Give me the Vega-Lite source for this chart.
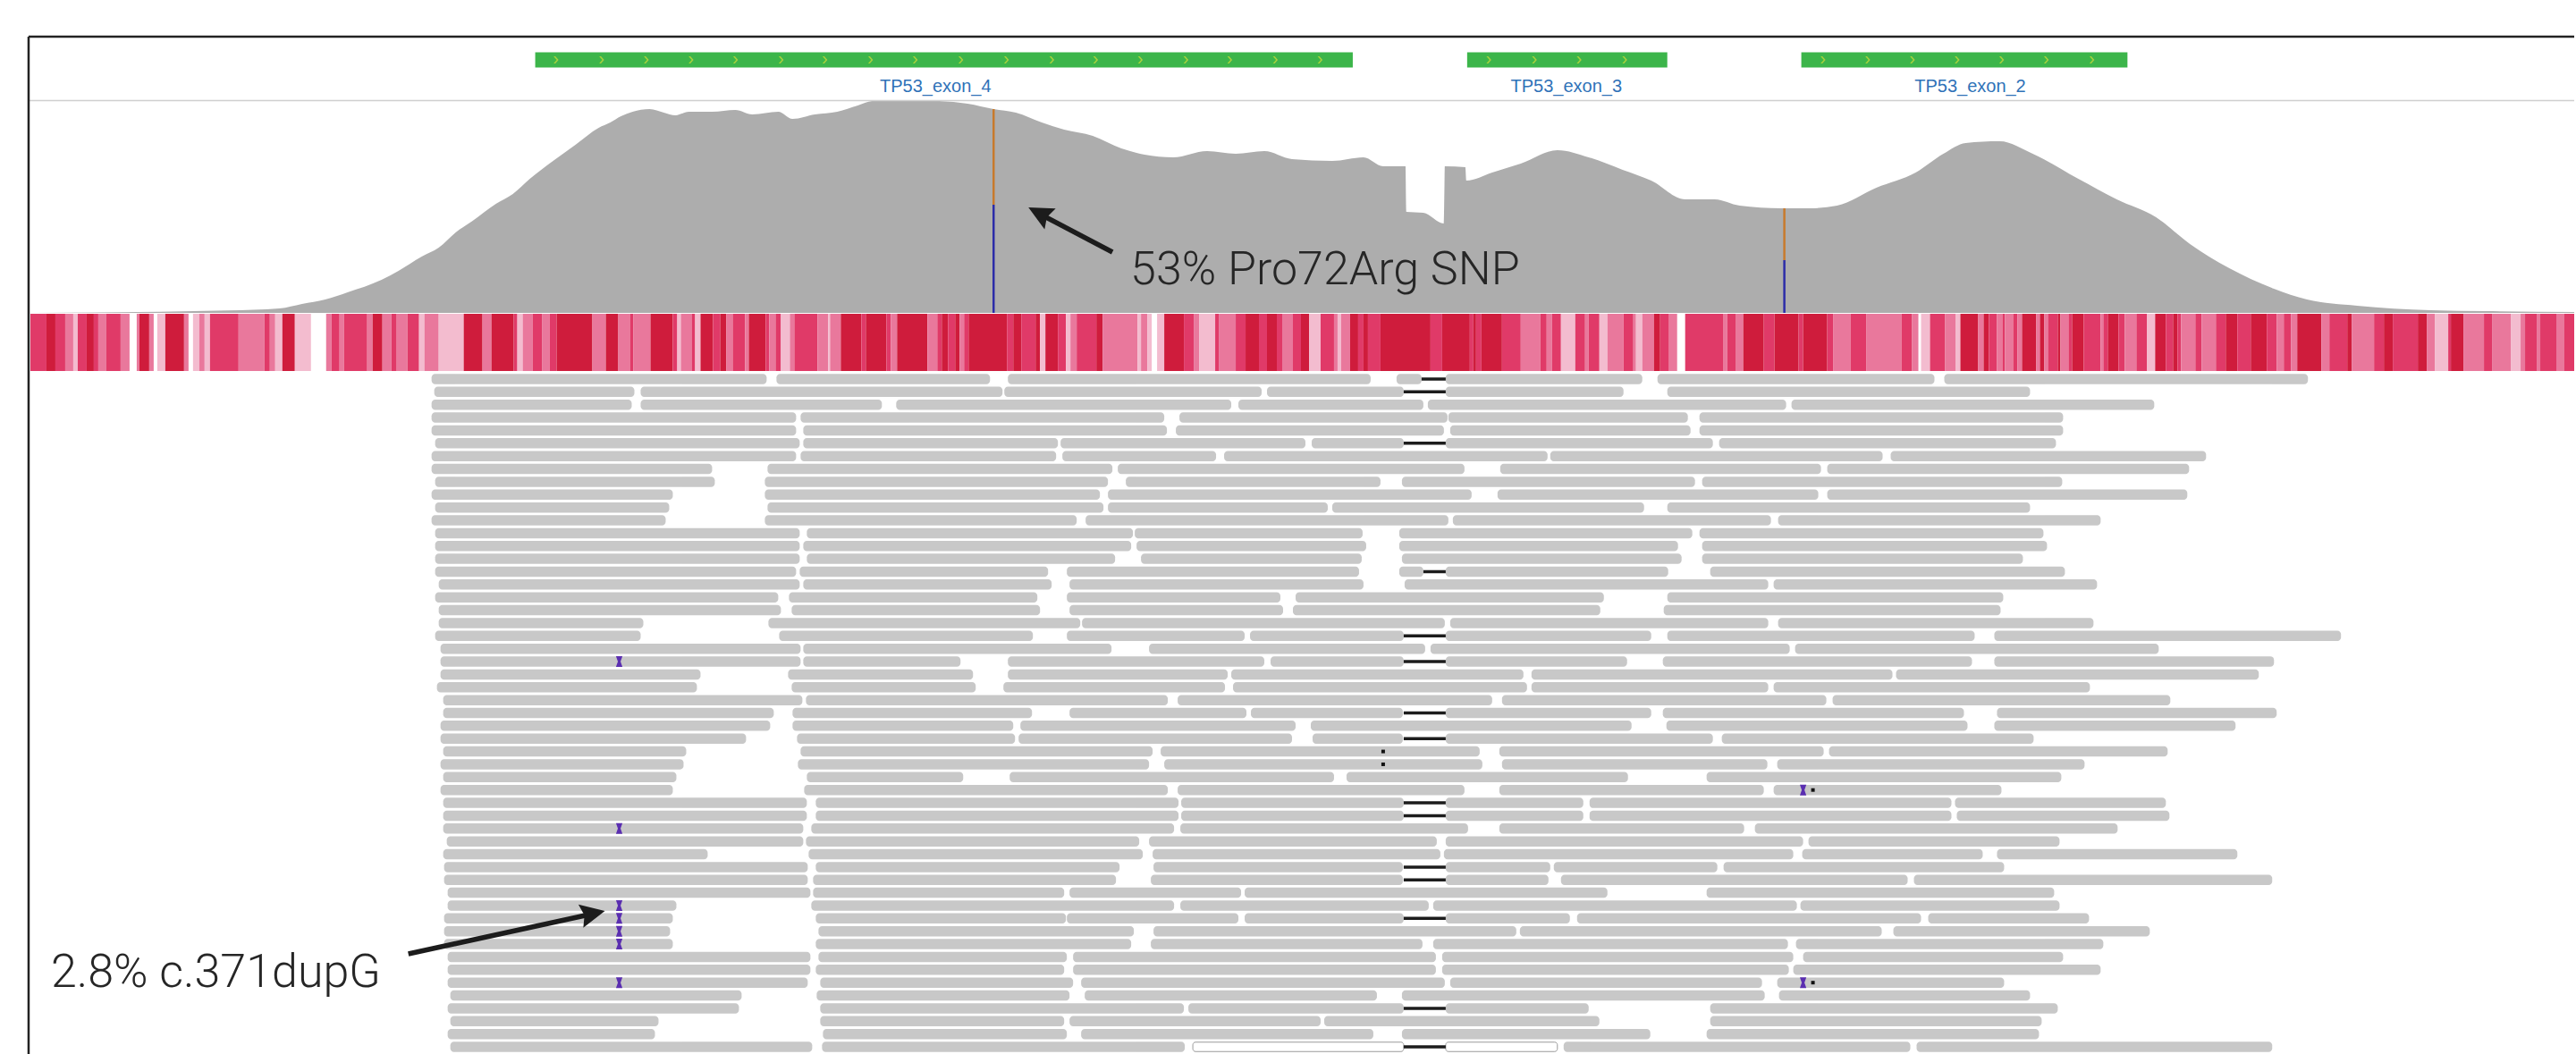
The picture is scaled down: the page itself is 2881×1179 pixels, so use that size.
{"$schema":"https://vega.github.io/schema/vega-lite/v6.json","width":2881,"height":1179,"padding":0,"autosize":{"type":"fit","contains":"padding"},"background":"#ffffff","config":{"view":{"stroke":null}},
"datasets":{
"coverage":[{"p":33,"d":0},{"p":179,"d":1.3},{"p":255,"d":2.7},{"p":313,"d":5},{"p":338,"d":10},{"p":364,"d":15},{"p":389,"d":23},{"p":427,"d":37},{"p":446,"d":47},{"p":472,"d":63},{"p":491,"d":73},{"p":510,"d":90},{"p":529,"d":103},{"p":555,"d":122},{"p":574,"d":133},{"p":593,"d":150},{"p":619,"d":170},{"p":644,"d":188},{"p":670,"d":207},{"p":683,"d":213},{"p":695,"d":220},{"p":708,"d":225},{"p":727,"d":228},{"p":743,"d":224},{"p":756,"d":221},{"p":771,"d":225},{"p":797,"d":225},{"p":823,"d":227},{"p":842,"d":222},{"p":871,"d":225},{"p":887,"d":217},{"p":912,"d":222},{"p":937,"d":225},{"p":960,"d":232},{"p":976,"d":237},{"p":1000,"d":238},{"p":1051,"d":237},{"p":1083,"d":234},{"p":1112,"d":228},{"p":1137,"d":224},{"p":1166,"d":213},{"p":1191,"d":205},{"p":1223,"d":198},{"p":1255,"d":184},{"p":1281,"d":177},{"p":1313,"d":174},{"p":1351,"d":181},{"p":1383,"d":178},{"p":1415,"d":181},{"p":1446,"d":172},{"p":1491,"d":170},{"p":1526,"d":174},{"p":1548,"d":164},{"p":1573,"d":164},{"p":1574,"d":113},{"p":1593,"d":112},{"p":1616,"d":100},{"p":1617,"d":164},{"p":1640,"d":163},{"p":1641,"d":148},{"p":1670,"d":157},{"p":1702,"d":167},{"p":1743,"d":182},{"p":1778,"d":174},{"p":1816,"d":160},{"p":1848,"d":148},{"p":1886,"d":127},{"p":1919,"d":127},{"p":1947,"d":120},{"p":1994,"d":117},{"p":2025,"d":117},{"p":2056,"d":120},{"p":2100,"d":140},{"p":2144,"d":157},{"p":2175,"d":178},{"p":2200,"d":190},{"p":2238,"d":192},{"p":2275,"d":178},{"p":2326,"d":150},{"p":2369,"d":127},{"p":2413,"d":107},{"p":2451,"d":77},{"p":2495,"d":50},{"p":2545,"d":27},{"p":2582,"d":15},{"p":2638,"d":8},{"p":2720,"d":3},{"p":2782,"d":2},{"p":2881,"d":1}],
"alleles":[{"p":1112,"a":228,"b":121,"base":"G"},{"p":1112,"a":121,"b":0,"base":"C"},{"p":1997,"a":117,"b":59,"base":"G"},{"p":1997,"a":59,"b":0,"base":"C"}],
"exons":[{"s":599,"e":1514},{"s":1642,"e":1866},{"s":2016,"e":2381}],
"chevrons":[{"p":622},{"p":673},{"p":723},{"p":773},{"p":823},{"p":874},{"p":923},{"p":974},{"p":1024},{"p":1075},{"p":1126},{"p":1177},{"p":1226},{"p":1276},{"p":1327},{"p":1376},{"p":1427},{"p":1477},{"p":1666},{"p":1717},{"p":1767},{"p":1818},{"p":2040},{"p":2090},{"p":2140},{"p":2190},{"p":2240},{"p":2290},{"p":2341}],
"exonLabels":[{"p":1047,"t":"TP53_exon_4"},{"p":1753,"t":"TP53_exon_3"},{"p":2205,"t":"TP53_exon_2"}],
"frame":[{"x":32,"x2":2881,"y":41,"y2":41,"k":"top"},{"x":32,"x2":32,"y":41,"y2":1179,"k":"left"}],
"sep":[{"x":33,"x2":2881,"y":112.5,"y2":112.5}],
"strip":[{"s":34,"e":52,"l":"M"},{"s":52,"e":62,"l":"D"},{"s":62,"e":73,"l":"M"},{"s":73,"e":82,"l":"L"},{"s":82,"e":87,"l":"P"},{"s":87,"e":97,"l":"M"},{"s":97,"e":105,"l":"D"},{"s":105,"e":110,"l":"M"},{"s":110,"e":119,"l":"L"},{"s":119,"e":135,"l":"M"},{"s":135,"e":145,"l":"L"},{"s":153,"e":156,"l":"L"},{"s":156,"e":167,"l":"D"},{"s":167,"e":172,"l":"L"},{"s":176,"e":185,"l":"P"},{"s":185,"e":206,"l":"D"},{"s":206,"e":211,"l":"L"},{"s":216,"e":223,"l":"P"},{"s":223,"e":229,"l":"L"},{"s":229,"e":235,"l":"P"},{"s":235,"e":267,"l":"M"},{"s":267,"e":296,"l":"L"},{"s":296,"e":302,"l":"M"},{"s":302,"e":308,"l":"L"},{"s":308,"e":316,"l":"P"},{"s":316,"e":330,"l":"D"},{"s":330,"e":348,"l":"P"},{"s":365,"e":371,"l":"L"},{"s":371,"e":380,"l":"M"},{"s":380,"e":385,"l":"L"},{"s":385,"e":411,"l":"M"},{"s":411,"e":417,"l":"L"},{"s":417,"e":428,"l":"D"},{"s":428,"e":438,"l":"L"},{"s":438,"e":444,"l":"M"},{"s":444,"e":456,"l":"L"},{"s":456,"e":469,"l":"M"},{"s":469,"e":475,"l":"P"},{"s":475,"e":491,"l":"L"},{"s":491,"e":519,"l":"P"},{"s":519,"e":540,"l":"D"},{"s":540,"e":550,"l":"L"},{"s":550,"e":575,"l":"D"},{"s":575,"e":579,"l":"M"},{"s":579,"e":585,"l":"P"},{"s":585,"e":596,"l":"L"},{"s":596,"e":607,"l":"M"},{"s":607,"e":615,"l":"L"},{"s":615,"e":623,"l":"M"},{"s":623,"e":663,"l":"D"},{"s":663,"e":678,"l":"L"},{"s":678,"e":692,"l":"D"},{"s":692,"e":705,"l":"L"},{"s":705,"e":709,"l":"M"},{"s":709,"e":728,"l":"L"},{"s":728,"e":753,"l":"D"},{"s":753,"e":758,"l":"M"},{"s":758,"e":762,"l":"P"},{"s":762,"e":774,"l":"L"},{"s":774,"e":778,"l":"M"},{"s":778,"e":784,"l":"P"},{"s":784,"e":798,"l":"D"},{"s":798,"e":806,"l":"M"},{"s":806,"e":813,"l":"D"},{"s":813,"e":820,"l":"L"},{"s":820,"e":834,"l":"M"},{"s":834,"e":838,"l":"L"},{"s":838,"e":857,"l":"D"},{"s":857,"e":861,"l":"M"},{"s":861,"e":868,"l":"L"},{"s":868,"e":874,"l":"M"},{"s":874,"e":884,"l":"P"},{"s":884,"e":889,"l":"L"},{"s":889,"e":915,"l":"M"},{"s":915,"e":927,"l":"L"},{"s":927,"e":929,"l":"P"},{"s":929,"e":941,"l":"L"},{"s":941,"e":964,"l":"D"},{"s":964,"e":969,"l":"M"},{"s":969,"e":992,"l":"D"},{"s":992,"e":997,"l":"M"},{"s":997,"e":1004,"l":"L"},{"s":1004,"e":1038,"l":"D"},{"s":1038,"e":1049,"l":"L"},{"s":1049,"e":1054,"l":"M"},{"s":1054,"e":1061,"l":"D"},{"s":1061,"e":1069,"l":"M"},{"s":1069,"e":1074,"l":"D"},{"s":1074,"e":1079,"l":"L"},{"s":1079,"e":1084,"l":"M"},{"s":1084,"e":1127,"l":"D"},{"s":1127,"e":1134,"l":"M"},{"s":1134,"e":1143,"l":"D"},{"s":1143,"e":1159,"l":"M"},{"s":1159,"e":1164,"l":"D"},{"s":1164,"e":1170,"l":"P"},{"s":1170,"e":1184,"l":"D"},{"s":1184,"e":1193,"l":"M"},{"s":1193,"e":1198,"l":"P"},{"s":1198,"e":1205,"l":"L"},{"s":1205,"e":1227,"l":"M"},{"s":1227,"e":1234,"l":"D"},{"s":1234,"e":1273,"l":"L"},{"s":1273,"e":1277,"l":"P"},{"s":1277,"e":1284,"l":"L"},{"s":1284,"e":1289,"l":"P"},{"s":1295,"e":1303,"l":"P"},{"s":1303,"e":1325,"l":"D"},{"s":1325,"e":1336,"l":"M"},{"s":1336,"e":1342,"l":"L"},{"s":1342,"e":1360,"l":"P"},{"s":1360,"e":1364,"l":"M"},{"s":1364,"e":1383,"l":"L"},{"s":1383,"e":1394,"l":"M"},{"s":1394,"e":1409,"l":"D"},{"s":1409,"e":1418,"l":"M"},{"s":1418,"e":1429,"l":"D"},{"s":1429,"e":1435,"l":"M"},{"s":1435,"e":1447,"l":"L"},{"s":1447,"e":1456,"l":"M"},{"s":1456,"e":1465,"l":"D"},{"s":1465,"e":1478,"l":"P"},{"s":1478,"e":1493,"l":"M"},{"s":1493,"e":1497,"l":"L"},{"s":1497,"e":1501,"l":"P"},{"s":1501,"e":1511,"l":"L"},{"s":1511,"e":1520,"l":"D"},{"s":1520,"e":1526,"l":"M"},{"s":1526,"e":1531,"l":"D"},{"s":1531,"e":1545,"l":"M"},{"s":1545,"e":1601,"l":"D"},{"s":1601,"e":1614,"l":"M"},{"s":1614,"e":1645,"l":"D"},{"s":1645,"e":1649,"l":"M"},{"s":1649,"e":1652,"l":"D"},{"s":1652,"e":1658,"l":"M"},{"s":1658,"e":1681,"l":"D"},{"s":1681,"e":1702,"l":"M"},{"s":1702,"e":1724,"l":"L"},{"s":1724,"e":1731,"l":"M"},{"s":1731,"e":1737,"l":"L"},{"s":1737,"e":1747,"l":"M"},{"s":1747,"e":1763,"l":"P"},{"s":1763,"e":1774,"l":"M"},{"s":1774,"e":1778,"l":"L"},{"s":1778,"e":1790,"l":"M"},{"s":1790,"e":1799,"l":"P"},{"s":1799,"e":1817,"l":"L"},{"s":1817,"e":1828,"l":"M"},{"s":1828,"e":1831,"l":"L"},{"s":1831,"e":1838,"l":"P"},{"s":1838,"e":1851,"l":"L"},{"s":1851,"e":1858,"l":"D"},{"s":1858,"e":1868,"l":"M"},{"s":1868,"e":1877,"l":"L"},{"s":1886,"e":1929,"l":"M"},{"s":1929,"e":1933,"l":"L"},{"s":1933,"e":1943,"l":"M"},{"s":1943,"e":1951,"l":"L"},{"s":1951,"e":1974,"l":"D"},{"s":1974,"e":1986,"l":"M"},{"s":1986,"e":2013,"l":"D"},{"s":2013,"e":2018,"l":"M"},{"s":2018,"e":2045,"l":"D"},{"s":2045,"e":2052,"l":"M"},{"s":2052,"e":2071,"l":"L"},{"s":2071,"e":2089,"l":"M"},{"s":2089,"e":2128,"l":"L"},{"s":2128,"e":2140,"l":"M"},{"s":2140,"e":2147,"l":"L"},{"s":2150,"e":2160,"l":"P"},{"s":2160,"e":2177,"l":"M"},{"s":2177,"e":2189,"l":"L"},{"s":2189,"e":2194,"l":"P"},{"s":2194,"e":2214,"l":"D"},{"s":2214,"e":2220,"l":"L"},{"s":2220,"e":2226,"l":"D"},{"s":2226,"e":2235,"l":"M"},{"s":2235,"e":2241,"l":"L"},{"s":2241,"e":2244,"l":"M"},{"s":2244,"e":2253,"l":"L"},{"s":2253,"e":2258,"l":"M"},{"s":2258,"e":2263,"l":"L"},{"s":2263,"e":2279,"l":"D"},{"s":2279,"e":2283,"l":"L"},{"s":2283,"e":2288,"l":"D"},{"s":2288,"e":2292,"l":"L"},{"s":2292,"e":2303,"l":"M"},{"s":2303,"e":2306,"l":"D"},{"s":2306,"e":2315,"l":"L"},{"s":2315,"e":2319,"l":"M"},{"s":2319,"e":2332,"l":"D"},{"s":2332,"e":2351,"l":"M"},{"s":2351,"e":2354,"l":"L"},{"s":2354,"e":2359,"l":"M"},{"s":2359,"e":2371,"l":"D"},{"s":2371,"e":2378,"l":"M"},{"s":2378,"e":2391,"l":"L"},{"s":2391,"e":2403,"l":"M"},{"s":2403,"e":2412,"l":"P"},{"s":2412,"e":2424,"l":"D"},{"s":2424,"e":2432,"l":"M"},{"s":2432,"e":2437,"l":"D"},{"s":2437,"e":2441,"l":"M"},{"s":2441,"e":2457,"l":"L"},{"s":2457,"e":2464,"l":"M"},{"s":2464,"e":2480,"l":"L"},{"s":2480,"e":2491,"l":"M"},{"s":2491,"e":2504,"l":"D"},{"s":2504,"e":2519,"l":"M"},{"s":2519,"e":2537,"l":"D"},{"s":2537,"e":2548,"l":"M"},{"s":2548,"e":2556,"l":"L"},{"s":2556,"e":2564,"l":"M"},{"s":2564,"e":2571,"l":"L"},{"s":2571,"e":2598,"l":"D"},{"s":2598,"e":2607,"l":"L"},{"s":2607,"e":2627,"l":"M"},{"s":2627,"e":2632,"l":"D"},{"s":2632,"e":2657,"l":"L"},{"s":2657,"e":2668,"l":"M"},{"s":2668,"e":2678,"l":"D"},{"s":2678,"e":2706,"l":"M"},{"s":2706,"e":2716,"l":"D"},{"s":2716,"e":2725,"l":"L"},{"s":2725,"e":2740,"l":"P"},{"s":2740,"e":2743,"l":"M"},{"s":2743,"e":2757,"l":"D"},{"s":2757,"e":2780,"l":"L"},{"s":2780,"e":2789,"l":"M"},{"s":2789,"e":2810,"l":"L"},{"s":2810,"e":2821,"l":"P"},{"s":2821,"e":2826,"l":"L"},{"s":2826,"e":2839,"l":"M"},{"s":2839,"e":2843,"l":"L"},{"s":2843,"e":2861,"l":"M"},{"s":2861,"e":2870,"l":"L"},{"s":2870,"e":2881,"l":"M"}],
"reads":[
{"r":0,"s":483,"e":858},{"r":0,"s":869,"e":1108},{"r":0,"s":1128,"e":1534},{"r":0,"s":1563,"e":1591},{"r":0,"s":1618,"e":1838},{"r":0,"s":1855,"e":2165},{"r":0,"s":2176,"e":2583},
{"r":1,"s":486,"e":710},{"r":1,"s":717,"e":1122},{"r":1,"s":1124,"e":1412},{"r":1,"s":1418,"e":1571},{"r":1,"s":1618,"e":1817},{"r":1,"s":1866,"e":2272},
{"r":2,"s":483,"e":707},{"r":2,"s":717,"e":987},{"r":2,"s":1003,"e":1378},{"r":2,"s":1386,"e":1593},{"r":2,"s":1598,"e":1999},{"r":2,"s":2005,"e":2411},
{"r":3,"s":483,"e":891},{"r":3,"s":896,"e":1303},{"r":3,"s":1320,"e":1620},{"r":3,"s":1621,"e":1889},{"r":3,"s":1902,"e":2309},
{"r":4,"s":483,"e":891},{"r":4,"s":899,"e":1306},{"r":4,"s":1316,"e":1616},{"r":4,"s":1623,"e":1892},{"r":4,"s":1902,"e":2309},
{"r":5,"s":487,"e":895},{"r":5,"s":899,"e":1184},{"r":5,"s":1187,"e":1461},{"r":5,"s":1468,"e":1571},{"r":5,"s":1618,"e":1917},{"r":5,"s":1924,"e":2301},
{"r":6,"s":483,"e":891},{"r":6,"s":896,"e":1182},{"r":6,"s":1189,"e":1361},{"r":6,"s":1370,"e":1732},{"r":6,"s":1735,"e":2107},{"r":6,"s":2116,"e":2469},
{"r":7,"s":483,"e":797},{"r":7,"s":859,"e":1245},{"r":7,"s":1251,"e":1639},{"r":7,"s":1679,"e":2038},{"r":7,"s":2045,"e":2450},
{"r":8,"s":487,"e":800},{"r":8,"s":856,"e":1240},{"r":8,"s":1260,"e":1545},{"r":8,"s":1569,"e":1897},{"r":8,"s":1905,"e":2308},
{"r":9,"s":483,"e":753},{"r":9,"s":856,"e":1231},{"r":9,"s":1240,"e":1647},{"r":9,"s":1676,"e":2035},{"r":9,"s":2045,"e":2448},
{"r":10,"s":487,"e":749},{"r":10,"s":859,"e":1235},{"r":10,"s":1240,"e":1486},{"r":10,"s":1491,"e":1840},{"r":10,"s":1866,"e":2272},
{"r":11,"s":483,"e":745},{"r":11,"s":856,"e":1205},{"r":11,"s":1215,"e":1621},{"r":11,"s":1626,"e":1982},{"r":11,"s":1990,"e":2351},
{"r":12,"s":487,"e":895},{"r":12,"s":903,"e":1268},{"r":12,"s":1270,"e":1525},{"r":12,"s":1566,"e":1894},{"r":12,"s":1902,"e":2287},
{"r":13,"s":487,"e":895},{"r":13,"s":899,"e":1266},{"r":13,"s":1272,"e":1529},{"r":13,"s":1566,"e":1878},{"r":13,"s":1905,"e":2291},
{"r":14,"s":487,"e":895},{"r":14,"s":903,"e":1248},{"r":14,"s":1277,"e":1524},{"r":14,"s":1569,"e":1882},{"r":14,"s":1905,"e":2264},
{"r":15,"s":487,"e":891},{"r":15,"s":895,"e":1173},{"r":15,"s":1194,"e":1521},{"r":15,"s":1566,"e":1593},{"r":15,"s":1618,"e":1867},{"r":15,"s":1914,"e":2311},
{"r":16,"s":491,"e":895},{"r":16,"s":899,"e":1177},{"r":16,"s":1197,"e":1526},{"r":16,"s":1572,"e":1979},{"r":16,"s":1985,"e":2347},
{"r":17,"s":487,"e":871},{"r":17,"s":883,"e":1161},{"r":17,"s":1194,"e":1433},{"r":17,"s":1450,"e":1795},{"r":17,"s":1866,"e":2242},
{"r":18,"s":491,"e":874},{"r":18,"s":886,"e":1164},{"r":18,"s":1197,"e":1436},{"r":18,"s":1447,"e":1791},{"r":18,"s":1862,"e":2239},
{"r":19,"s":491,"e":720},{"r":19,"s":860,"e":1209},{"r":19,"s":1211,"e":1617},{"r":19,"s":1623,"e":1979},{"r":19,"s":1990,"e":2343},
{"r":20,"s":487,"e":717},{"r":20,"s":872,"e":1156},{"r":20,"s":1194,"e":1393},{"r":20,"s":1399,"e":1571},{"r":20,"s":1618,"e":1848},{"r":20,"s":1866,"e":2210},{"r":20,"s":2232,"e":2620},
{"r":21,"s":493,"e":896},{"r":21,"s":899,"e":1244},{"r":21,"s":1286,"e":1595},{"r":21,"s":1601,"e":2003},{"r":21,"s":2009,"e":2416},
{"r":22,"s":493,"e":896},{"r":22,"s":899,"e":1075},{"r":22,"s":1128,"e":1415},{"r":22,"s":1422,"e":1571},{"r":22,"s":1618,"e":1821},{"r":22,"s":1861,"e":2207},{"r":22,"s":2232,"e":2545},
{"r":23,"s":493,"e":784},{"r":23,"s":882,"e":1089},{"r":23,"s":1128,"e":1374},{"r":23,"s":1378,"e":1705},{"r":23,"s":1714,"e":2118},{"r":23,"s":2122,"e":2528},
{"r":24,"s":489,"e":780},{"r":24,"s":886,"e":1092},{"r":24,"s":1123,"e":1371},{"r":24,"s":1380,"e":1709},{"r":24,"s":1714,"e":1979},{"r":24,"s":1985,"e":2339},
{"r":25,"s":496,"e":898},{"r":25,"s":902,"e":1307},{"r":25,"s":1318,"e":1670},{"r":25,"s":1681,"e":2044},{"r":25,"s":2051,"e":2429},
{"r":26,"s":496,"e":866},{"r":26,"s":887,"e":1155},{"r":26,"s":1197,"e":1395},{"r":26,"s":1400,"e":1570},{"r":26,"s":1618,"e":1848},{"r":26,"s":1861,"e":2198},{"r":26,"s":2235,"e":2548},
{"r":27,"s":493,"e":862},{"r":27,"s":887,"e":1134},{"r":27,"s":1142,"e":1450},{"r":27,"s":1467,"e":1826},{"r":27,"s":1865,"e":2202},{"r":27,"s":2232,"e":2502},
{"r":28,"s":493,"e":835},{"r":28,"s":892,"e":1136},{"r":28,"s":1140,"e":1446},{"r":28,"s":1469,"e":1570},{"r":28,"s":1618,"e":1917},{"r":28,"s":1927,"e":2276},
{"r":29,"s":496,"e":768},{"r":29,"s":896,"e":1290},{"r":29,"s":1299,"e":1656},{"r":29,"s":1678,"e":2041},{"r":29,"s":2047,"e":2426},
{"r":30,"s":493,"e":765},{"r":30,"s":893,"e":1286},{"r":30,"s":1303,"e":1659},{"r":30,"s":1681,"e":1978},{"r":30,"s":1989,"e":2333},
{"r":31,"s":496,"e":757},{"r":31,"s":903,"e":1078},{"r":31,"s":1130,"e":1493},{"r":31,"s":1507,"e":1822},{"r":31,"s":1910,"e":2307},
{"r":32,"s":493,"e":753},{"r":32,"s":900,"e":1307},{"r":32,"s":1318,"e":1639},{"r":32,"s":1678,"e":1974},{"r":32,"s":1985,"e":2240},
{"r":33,"s":496,"e":903},{"r":33,"s":913,"e":1319},{"r":33,"s":1322,"e":1571},{"r":33,"s":1618,"e":1772},{"r":33,"s":1779,"e":2184},{"r":33,"s":2188,"e":2424},
{"r":34,"s":496,"e":903},{"r":34,"s":913,"e":1319},{"r":34,"s":1322,"e":1571},{"r":34,"s":1618,"e":1772},{"r":34,"s":1779,"e":2184},{"r":34,"s":2190,"e":2428},
{"r":35,"s":496,"e":899},{"r":35,"s":908,"e":1314},{"r":35,"s":1321,"e":1643},{"r":35,"s":1678,"e":1952},{"r":35,"s":1964,"e":2370},
{"r":36,"s":500,"e":899},{"r":36,"s":902,"e":1275},{"r":36,"s":1286,"e":1608},{"r":36,"s":1618,"e":2018},{"r":36,"s":2024,"e":2305},
{"r":37,"s":496,"e":792},{"r":37,"s":905,"e":1279},{"r":37,"s":1290,"e":1612},{"r":37,"s":1616,"e":2007},{"r":37,"s":2017,"e":2219},{"r":37,"s":2235,"e":2504},
{"r":38,"s":497,"e":904},{"r":38,"s":913,"e":1253},{"r":38,"s":1291,"e":1570},{"r":38,"s":1618,"e":1735},{"r":38,"s":1739,"e":1922},{"r":38,"s":1929,"e":2243},
{"r":39,"s":497,"e":904},{"r":39,"s":910,"e":1249},{"r":39,"s":1288,"e":1570},{"r":39,"s":1618,"e":1733},{"r":39,"s":1747,"e":2135},{"r":39,"s":2142,"e":2543},
{"r":40,"s":501,"e":907},{"r":40,"s":910,"e":1191},{"r":40,"s":1197,"e":1389},{"r":40,"s":1393,"e":1799},{"r":40,"s":1910,"e":2299},
{"r":41,"s":501,"e":757},{"r":41,"s":908,"e":1314},{"r":41,"s":1321,"e":1599},{"r":41,"s":1604,"e":2011},{"r":41,"s":2015,"e":2305},
{"r":42,"s":497,"e":753},{"r":42,"s":913,"e":1193},{"r":42,"s":1194,"e":1386},{"r":42,"s":1393,"e":1571},{"r":42,"s":1618,"e":1757},{"r":42,"s":1765,"e":2150},{"r":42,"s":2158,"e":2338},
{"r":43,"s":497,"e":750},{"r":43,"s":916,"e":1269},{"r":43,"s":1291,"e":1697},{"r":43,"s":1701,"e":2106},{"r":43,"s":2119,"e":2406},
{"r":44,"s":497,"e":753},{"r":44,"s":913,"e":1266},{"r":44,"s":1288,"e":1592},{"r":44,"s":1604,"e":2001},{"r":44,"s":2010,"e":2354},
{"r":45,"s":501,"e":907},{"r":45,"s":916,"e":1194},{"r":45,"s":1201,"e":1607},{"r":45,"s":1614,"e":2007},{"r":45,"s":2018,"e":2309},
{"r":46,"s":501,"e":907},{"r":46,"s":913,"e":1191},{"r":46,"s":1201,"e":1607},{"r":46,"s":1614,"e":2002},{"r":46,"s":2007,"e":2351},
{"r":47,"s":501,"e":904},{"r":47,"s":918,"e":1201},{"r":47,"s":1210,"e":1617},{"r":47,"s":1623,"e":1972},{"r":47,"s":1989,"e":2243},
{"r":48,"s":504,"e":830},{"r":48,"s":914,"e":1197},{"r":48,"s":1214,"e":1541},{"r":48,"s":1569,"e":1975},{"r":48,"s":1991,"e":2272},
{"r":49,"s":501,"e":827},{"r":49,"s":918,"e":1325},{"r":49,"s":1330,"e":1571},{"r":49,"s":1618,"e":1778},{"r":49,"s":1914,"e":2303},
{"r":50,"s":504,"e":737},{"r":50,"s":918,"e":1191},{"r":50,"s":1197,"e":1478},{"r":50,"s":1482,"e":1790},{"r":50,"s":1914,"e":2285},
{"r":51,"s":501,"e":733},{"r":51,"s":921,"e":1194},{"r":51,"s":1210,"e":1537},{"r":51,"s":1569,"e":1847},{"r":51,"s":1910,"e":2282},
{"r":52,"s":504,"e":909},{"r":52,"s":920,"e":1326},{"r":52,"s":1750,"e":2138},{"r":52,"s":2145,"e":2543}],
"hollow":[{"r":52,"s":1335,"e":1571},{"r":52,"s":1618,"e":1743}],
"deletions":[{"r":0,"s":1591,"e":1618},{"r":1,"s":1571,"e":1618},{"r":5,"s":1571,"e":1618},{"r":15,"s":1593,"e":1618},{"r":20,"s":1571,"e":1618},{"r":22,"s":1571,"e":1618},{"r":26,"s":1571,"e":1618},{"r":28,"s":1571,"e":1618},{"r":33,"s":1571,"e":1618},{"r":34,"s":1571,"e":1618},{"r":38,"s":1571,"e":1618},{"r":39,"s":1571,"e":1618},{"r":42,"s":1571,"e":1618},{"r":49,"s":1571,"e":1618},{"r":52,"s":1571,"e":1618}],
"insertions":[{"r":22,"p":693},{"r":35,"p":693},{"r":41,"p":693},{"r":42,"p":693},{"r":43,"p":693},{"r":44,"p":693},{"r":47,"p":693},{"r":32,"p":2018},{"r":47,"p":2018}],
"dots":[{"r":29,"p":1548},{"r":30,"p":1548},{"r":32,"p":2029},{"r":47,"p":2029}],
"arrows":[{"x":1245,"y":282,"x2":1165,"y2":240},{"x":457,"y":1067,"x2":655,"y2":1024}],
"heads":[{"x":1151,"y":232,"heading":-62},{"x":677,"y":1019,"heading":78}],
"notes":[{"x":1265,"y":318,"t":"53% Pro72Arg SNP"},{"x":57,"y":1104,"t":"2.8% c.371dupG"}]
},
"resolve":{"scale":{"y":"independent","color":"independent"}},
"encoding":{"x":{"field":"p","type":"quantitative","axis":null,"scale":{"domain":[0,2881],"nice":false,"zero":false}}},
"layer":[
{"data":{"name":"coverage"},"mark":{"type":"area","color":"#adadad","interpolate":"monotone"},"encoding":{"y":{"field":"d","type":"quantitative","axis":null,"scale":{"domain":[0,350],"range":[350,0],"nice":false,"zero":false}}}},
{"data":{"name":"alleles"},"mark":{"type":"rule","strokeWidth":2.5},"encoding":{"y":{"field":"a","type":"quantitative","axis":null,"scale":{"domain":[0,350],"range":[350,0],"nice":false,"zero":false}},"y2":{"field":"b"},"color":{"field":"base","type":"nominal","legend":null,"scale":{"domain":["G","C"],"range":["#c87a2c","#2c2ca8"]}}}},
{"data":{"name":"strip"},"mark":{"type":"bar","orient":"horizontal","size":64},"encoding":{"x":{"field":"s","type":"quantitative","axis":null},"x2":{"field":"e"},"y":{"datum":0,"type":"quantitative","axis":null,"scale":{"domain":[-1,1],"range":[319,447],"nice":false,"zero":false,"padding":0}},"color":{"field":"l","type":"nominal","legend":null,"scale":{"domain":["D","M","L","P"],"range":["#cf1c3c","#e03a68","#e9789c","#f3bccf"]}}}},
{"data":{"name":"exons"},"mark":{"type":"bar","orient":"horizontal","size":17,"color":"#3cb54a"},"encoding":{"x":{"field":"s","type":"quantitative","axis":null},"x2":{"field":"e"},"y":{"datum":0,"type":"quantitative","axis":null,"scale":{"domain":[-1,1],"range":[0,134],"nice":false,"zero":false,"padding":0}}}},
{"data":{"name":"chevrons"},"mark":{"type":"text","text":"›","font":"Liberation Sans","fontSize":20,"color":"#a9d23a","baseline":"middle","align":"center"},"encoding":{"y":{"datum":0,"type":"quantitative","axis":null,"scale":{"domain":[-1,1],"range":[0,132],"nice":false,"zero":false}}}},
{"data":{"name":"exonLabels"},"mark":{"type":"text","font":"Liberation Sans","fontSize":20,"color":"#2f72b8","baseline":"middle","align":"center"},"encoding":{"text":{"field":"t"},"y":{"datum":0,"type":"quantitative","axis":null,"scale":{"domain":[-1,1],"range":[0,194],"nice":false,"zero":false}}}},
{"data":{"name":"sep"},"mark":{"type":"rule","color":"#cfcfcf","strokeWidth":1.5},"encoding":{"x":{"field":"x","type":"quantitative","axis":null},"x2":{"field":"x2"},"y":{"field":"y","type":"quantitative","axis":null,"scale":{"domain":[0,1179],"range":[0,1179],"nice":false,"zero":false}}}},
{"data":{"name":"frame"},"mark":{"type":"rule","color":"#222222","strokeWidth":2.5},"encoding":{"x":{"field":"x","type":"quantitative","axis":null},"x2":{"field":"x2"},"y":{"field":"y","type":"quantitative","axis":null,"scale":{"domain":[0,1179],"range":[0,1179],"nice":false,"zero":false}},"y2":{"field":"y2"}}},
{"data":{"name":"reads"},"mark":{"type":"bar","orient":"horizontal","size":11.5,"color":"#c8c8c8","cornerRadius":4},"encoding":{"x":{"field":"s","type":"quantitative","axis":null},"x2":{"field":"e"},"y":{"field":"r","type":"quantitative","axis":null,"scale":{"domain":[0,52],"range":[424,1171],"nice":false,"zero":false,"padding":0}}}},
{"data":{"name":"hollow"},"mark":{"type":"bar","orient":"horizontal","size":10.5,"color":"#ffffff","stroke":"#9a9a9a","strokeWidth":1,"cornerRadius":3},"encoding":{"x":{"field":"s","type":"quantitative","axis":null},"x2":{"field":"e"},"y":{"field":"r","type":"quantitative","axis":null,"scale":{"domain":[0,52],"range":[424,1171],"nice":false,"zero":false,"padding":0}}}},
{"data":{"name":"deletions"},"mark":{"type":"rule","color":"#1c1c1c","strokeWidth":3.5},"encoding":{"x":{"field":"s","type":"quantitative","axis":null},"x2":{"field":"e"},"y":{"field":"r","type":"quantitative","axis":null,"scale":{"domain":[0,52],"range":[424,1171],"nice":false,"zero":false}}}},
{"data":{"name":"insertions"},"mark":{"type":"point","filled":true,"opacity":1,"color":"#5a2eb0","size":144,"shape":"M-.6,-1 H.6 L.25,0 L.6,1 H-.6 L-.25,0 Z"},"encoding":{"y":{"field":"r","type":"quantitative","axis":null,"scale":{"domain":[0,52],"range":[424,1171],"nice":false,"zero":false}}}},
{"data":{"name":"dots"},"mark":{"type":"point","filled":true,"opacity":1,"color":"#111111","size":16,"shape":"square"},"encoding":{"y":{"field":"r","type":"quantitative","axis":null,"scale":{"domain":[0,52],"range":[424,1171],"nice":false,"zero":false}}}},
{"data":{"name":"arrows"},"mark":{"type":"rule","color":"#1c1c1c","strokeWidth":5.5},"encoding":{"x":{"field":"x","type":"quantitative","axis":null},"x2":{"field":"x2"},"y":{"field":"y","type":"quantitative","axis":null,"scale":{"domain":[0,1179],"range":[0,1179],"nice":false,"zero":false}},"y2":{"field":"y2"}}},
{"data":{"name":"heads"},"mark":{"type":"point","filled":true,"opacity":1,"color":"#1c1c1c","size":3025,"shape":"M0,0 L.48,1 L0,.85 L-.48,1 Z"},"encoding":{"x":{"field":"x","type":"quantitative","axis":null},"y":{"field":"y","type":"quantitative","axis":null,"scale":{"domain":[0,1179],"range":[0,1179],"nice":false,"zero":false}},"angle":{"field":"heading","type":"quantitative","legend":null,"scale":{"domain":[-360,360],"range":[-360,360]}}}},
{"data":{"name":"notes"},"mark":{"type":"text","font":"Roboto","fontWeight":300,"fontSize":52,"color":"#262626","align":"left","baseline":"alphabetic"},"encoding":{"x":{"field":"x","type":"quantitative","axis":null},"y":{"field":"y","type":"quantitative","axis":null,"scale":{"domain":[0,1179],"range":[0,1179],"nice":false,"zero":false}},"text":{"field":"t"}}}
]}
